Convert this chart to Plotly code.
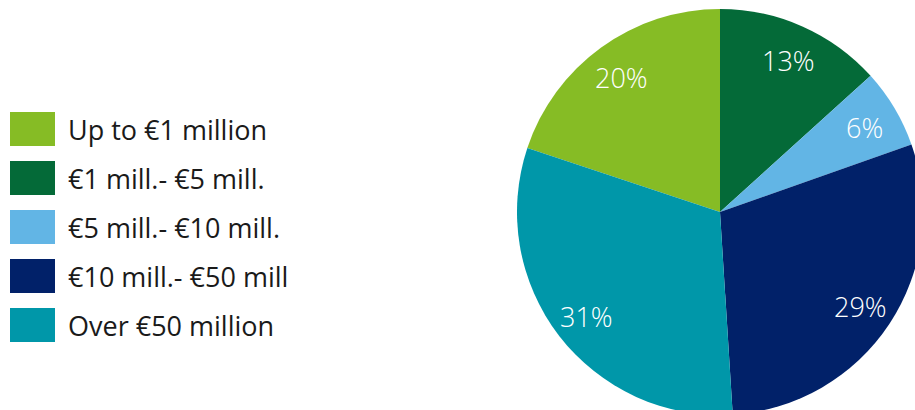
import math
import plotly.graph_objects as go

categories = ["Up to €1 million", "€1 mill.- €5 mill.", "€5 mill.- €10 mill.",
              "€10 mill.- €50 mill", "Over €50 million"]
values = [19.9, 13.3, 6.3, 29.4, 31.1]
labels_text = ["20%", "13%", "6%", "29%", "31%"]
colors = ["#86BC25", "#046A38", "#62B5E5", "#012169", "#0097A9"]

W, H = 935, 430
FONT = "Open Sans"

# pie center (720, 212) px, radius 203 px
cx, cy, r = 720, 212, 203
total = sum(values)
rotation = -360 * values[0] / total

fig = go.Figure(go.Pie(
    labels=categories, values=values, text=labels_text,
    textinfo="none",
    marker=dict(colors=colors, line=dict(width=0)),
    sort=False, direction="clockwise", rotation=rotation,
    domain=dict(x=[(cx - r) / W, (cx + r) / W], y=[1 - (cy + r) / H, 1 - (cy - r) / H]),
    showlegend=False, hoverinfo="label+text",
))

shapes, annotations = [], []
for i, (cat, col) in enumerate(zip(categories, colors)):
    top = 112 + 49 * i
    shapes.append(dict(type="rect", xref="paper", yref="paper",
                       x0=10 / W, x1=55 / W, y0=1 - (top + 34) / H, y1=1 - top / H,
                       fillcolor=col, line=dict(width=0)))
    annotations.append(dict(xref="paper", yref="paper", x=66 / W, y=1 - (top + 17) / H,
                            xanchor="left", yanchor="middle", showarrow=False, text=cat,
                            font=dict(family=FONT, size=27, color="#1a1a1a")))

# percentage labels at the mid-angle of each slice
start = rotation
rl = 0.83 * r
for v, t in zip(values, labels_text):
    mid = math.radians(start + 360 * v / total / 2)
    start += 360 * v / total
    px = cx + rl * math.sin(mid)
    py = cy - rl * math.cos(mid) + 2
    annotations.append(dict(xref="paper", yref="paper", x=px / W, y=1 - py / H,
                            xanchor="center", yanchor="middle", showarrow=False, text=t,
                            font=dict(family=FONT, size=27, color="white", weight=300)))

fig.update_layout(width=W, height=H, autosize=False,
                  margin=dict(l=0, r=0, t=0, b=0),
                  paper_bgcolor="white", plot_bgcolor="white",
                  shapes=shapes, annotations=annotations)

fig.write_html("out.html", post_script=(
    "document.documentElement.style.overflow='hidden';"
    "document.body.style.overflow='hidden';document.body.style.margin='0';"))
